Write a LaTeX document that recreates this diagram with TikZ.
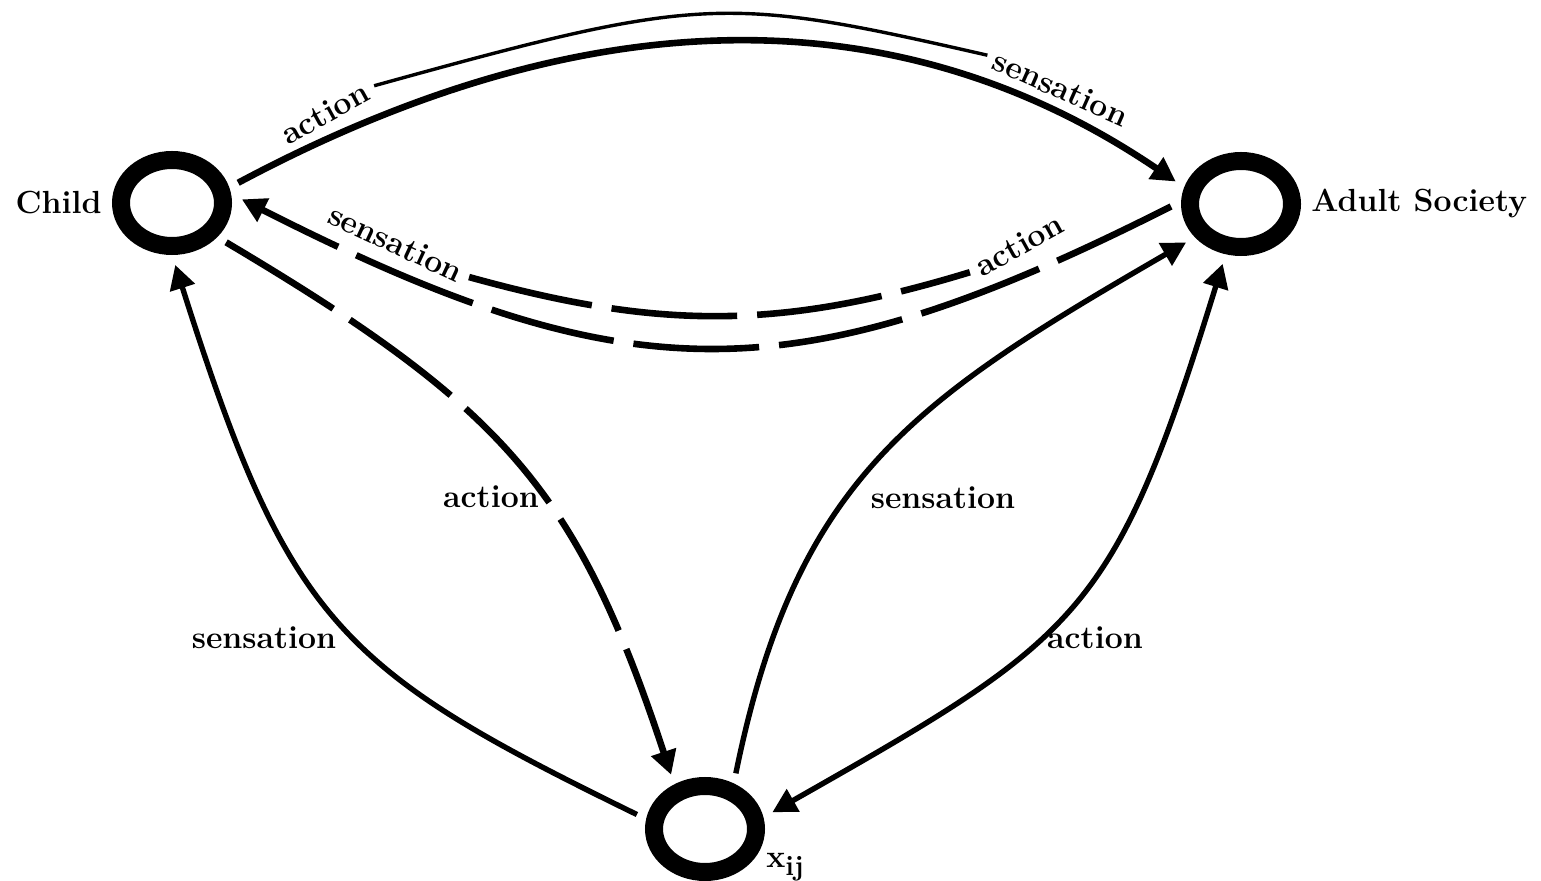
\documentclass[tikz,border=0pt]{standalone}
\usetikzlibrary{shapes.geometric,arrows.meta,positioning}
\begin{document}
\begin{tikzpicture}[x=0.5pt, y=-0.5pt,
        ring/.style={ellipse, draw, line width=9pt, minimum width=51pt, minimum height=43pt, inner sep=0pt, outer sep=9.5pt},
        txt/.style={font=\fontsize{16}{19}\selectfont\bfseries, inner sep=0pt},
        lbl/.style={txt, inner sep=4pt},
        tip/.style={-{Triangle[length=12pt,width=12.5pt]}},
        flow/.style={tip, line width=2.7pt},
        dashflow/.style={tip, line width=3.3pt, dash pattern=on 63pt off 10pt},
        sayline/.style={line width=1.7pt},
        dashsay/.style={line width=3.3pt, dash pattern=on 63pt off 10pt}]
    \useasboundingbox (0,0) rectangle (1541,881);
    % the three agents
    \node[ring] (child) at (172,203) {};
    \node[ring] (adult) at (1241,204) {};
    \node[ring] (xij) at (705,829) {};
    \node[txt, left=0pt of child] (childlab) {Child};
    \node[txt, right=0pt of adult] (adultlab) {Adult Society};
    \node[txt, anchor=base west] (xlab) at (766,867) {x\raisebox{-4pt}{\fontsize{14}{16}\selectfont ij}};
    % child and adult society
    \node[lbl, rotate=29] (actTop) at (325,113) {action};
    \node[lbl, rotate=-24] (sensTop) at (1061,88) {sensation};
    \node[lbl, rotate=-25] (sensLow) at (396,243) {sensation};
    \node[lbl, rotate=29] (actLow) at (1019,245) {action};
    \draw[flow, line width=3.3pt] (child.17) .. controls (590,-5) and (901,-5) .. (adult.161);
    \draw[sayline] (actTop.east) .. controls (702,-5) and (724,-5) .. (sensTop.west);
    \draw[dashflow] (adult.182) .. controls (796,396) and (629,396) .. (child.3);
    \draw[dashsay] (sensLow.east) .. controls (660,330) and (780,330) .. (actLow.west);
    % links through x_ij
    \draw[dashflow] (child.-36) .. controls (505,408) and (577,490) .. (xij.122);
    \node[txt] (actCX) at (491,497) {action};
    \draw[flow] (xij.168) .. controls (339,669) and (289,624) .. (child.-87);
    \node[txt] (sensXC) at (264,638) {sensation};
    \draw[flow] (xij.61) .. controls (796,478) and (914,400) .. (adult.-145);
    \node[txt] (sensXA) at (943,498) {sensation};
    \draw[flow, {Triangle[length=12pt,width=12.5pt]}-{Triangle[length=12pt,width=12.5pt]}] (adult.-107) .. controls (1114,616) and (1081,637) .. (xij.14);
    \node[txt] (actAX) at (1095,638) {action};
\end{tikzpicture}
\end{document}
